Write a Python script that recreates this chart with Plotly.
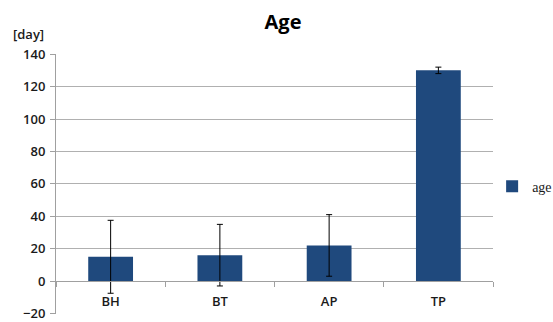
import plotly.graph_objects as go

categories = ["BH", "BT", "AP", "TP"]
age_values = [15, 16, 22, 130]
age_errors = [22.5, 19, 19, 2]
y_ticks = [-20, 0, 20, 40, 60, 80, 100, 120, 140]

fig = go.Figure()
fig.add_trace(go.Bar(
    x=categories, y=age_values, name="age",
    marker=dict(color="#1f497d", line=dict(width=0)),
    error_y=dict(type="data", array=age_errors, visible=True,
                 color="#000000", thickness=1, width=3),
    showlegend=True,
))

font_family = "Open Sans, Liberation Sans, sans-serif"
tick_font = dict(family=font_family, size=13, color="#1a1a1a", weight=600)
y_min, y_max = y_ticks[0], y_ticks[-1]
r_lo, r_hi = y_min - 0.3, y_max + 0.1
fig.update_layout(
    width=553, height=322,
    margin=dict(l=56, r=60, t=54, b=8, autoexpand=False),
    paper_bgcolor="white", plot_bgcolor="white",
    bargap=0.59,
    title=dict(text="<b>Age</b>", x=283 / 553, xanchor="center",
               y=1 - 22 / 322, yanchor="middle",
               font=dict(family=font_family, size=20, color="#000000")),
    font=dict(family=font_family, size=12, color="#1a1a1a"),
    showlegend=True,
    legend=dict(x=0.998, y=0.49, xanchor="left", yanchor="middle",
                font=dict(family="Liberation Serif, DejaVu Serif, serif",
                          size=14, color="#1a1a1a"),
                itemwidth=30, bgcolor="rgba(0,0,0,0)"),
    xaxis=dict(
        anchor="free", position=(0 - r_lo) / (r_hi - r_lo),
        automargin=False,
        showline=True, linecolor="#a0a0a0", linewidth=1,
        ticks="outside", ticklen=5, tickcolor="#a0a0a0",
        tickson="boundaries", showgrid=False,
        ticklabelstandoff=8,
        tickfont=tick_font,
        zeroline=False,
    ),
    yaxis=dict(
        range=[r_lo, r_hi], tickvals=y_ticks, automargin=False,
        showgrid=True, gridcolor="#b0b0b0", gridwidth=1,
        showline=True, linecolor="#a0a0a0", linewidth=1,
        ticks="outside", ticklen=5, tickcolor="#a0a0a0",
        tickfont=tick_font, ticklabeloverflow="allow",
        ticklabelstandoff=2,
        zeroline=False,
    ),
)

fig.add_annotation(text="[day]", xref="paper", yref="paper",
                   x=-0.064, y=1.035, xanchor="center", yanchor="bottom",
                   showarrow=False,
                   font=dict(family=font_family, size=13, color="#1a1a1a",
                             weight=600))

fig.write_html("out.html", config={"displayModeBar": False},
               post_script="document.body.style.margin='0';")
